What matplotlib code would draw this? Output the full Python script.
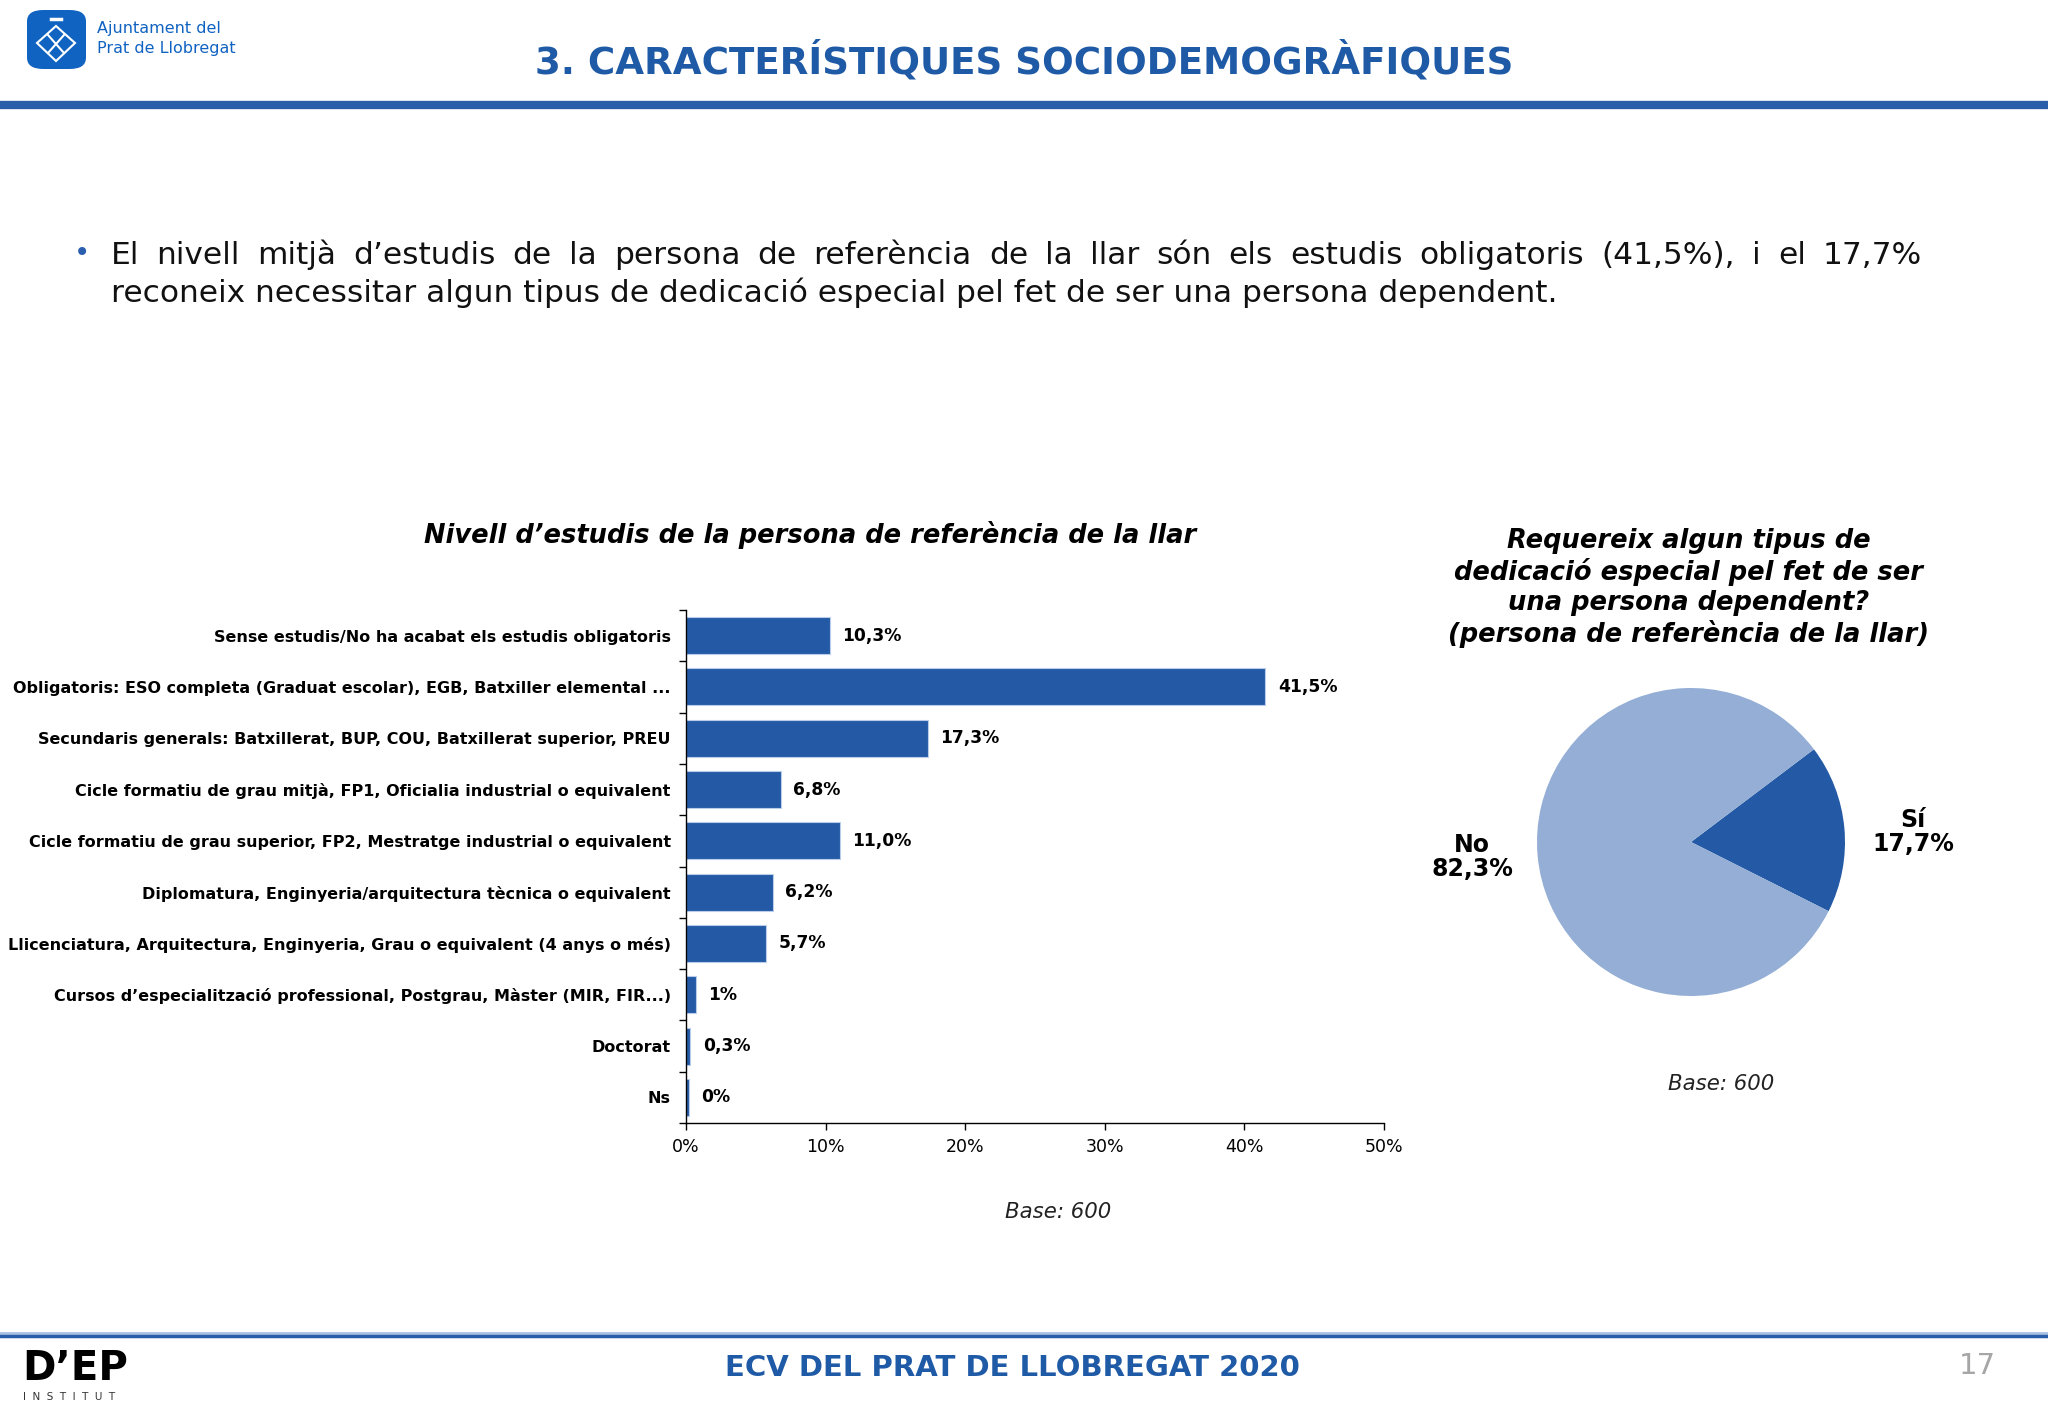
import numpy as np
import matplotlib
matplotlib.use("Agg")
import matplotlib.pyplot as plt
from matplotlib.patches import FancyBboxPatch, Polygon

plt.rcParams['font.family'] = 'DejaVu Sans'

W, H = 2048, 1418
BLUE = '#245aa5'
LIGHT = '#94aed5'
HEAD = '#1f5aa6'

categories = [
    "Sense estudis/No ha acabat els estudis obligatoris",
    "Obligatoris: ESO completa (Graduat escolar), EGB, Batxiller elemental ...",
    "Secundaris generals: Batxillerat, BUP, COU, Batxillerat superior, PREU",
    "Cicle formatiu de grau mitjà, FP1, Oficialia industrial o equivalent",
    "Cicle formatiu de grau superior, FP2, Mestratge industrial o equivalent",
    "Diplomatura, Enginyeria/arquitectura tècnica o equivalent",
    "Llicenciatura, Arquitectura, Enginyeria, Grau o equivalent (4 anys o més)",
    "Cursos d\u2019especialització professional, Postgrau, Màster (MIR, FIR...)",
    "Doctorat",
    "Ns",
]
values = [10.3, 41.5, 17.3, 6.8, 11.0, 6.2, 5.7, 0.7, 0.3, 0.2]
value_labels = ["10,3%", "41,5%", "17,3%", "6,8%", "11,0%", "6,2%", "5,7%", "1%", "0,3%", "0%"]
x_ticks = [0, 10, 20, 30, 40, 50]
x_tick_labels = ["0%", "10%", "20%", "30%", "40%", "50%"]

pie_labels = ["Sí\n17,7%", "No\n82,3%"]
pie_values = [17.7, 82.3]
pie_colors = [BLUE, LIGHT]


def fx(x):
    return x / W


def fy(y):
    return 1 - y / H


fig = plt.figure(figsize=(W / 100, H / 100), dpi=100)

# ---- header ----
fig.add_artist(FancyBboxPatch((fx(27), fy(69)), fx(59), 59 / H,
                              boxstyle="round,pad=0,rounding_size=0.008",
                              transform=fig.transFigure, fc='#1163c2', ec='none'))
fig.add_artist(Polygon([(fx(56), fy(26)), (fx(75), fy(43)), (fx(56), fy(61)), (fx(37), fy(43))],
                       closed=True, fill=False, ec='white', lw=1.5, transform=fig.transFigure))
fig.add_artist(plt.Line2D([fx(48), fx(64)], [fy(35), fy(53)], color='white', lw=1.5,
                          transform=fig.transFigure))
fig.add_artist(plt.Line2D([fx(64), fx(48)], [fy(35), fy(53)], color='white', lw=1.5,
                          transform=fig.transFigure))
fig.add_artist(plt.Line2D([fx(51), fx(61)], [fy(19), fy(19)], color='white', lw=2.5,
                          transform=fig.transFigure))
fig.text(fx(97), fy(29), "Ajuntament del", color='#1163c2', fontsize=11.5,
         va='center', ha='left')
fig.text(fx(97), fy(49), "Prat de Llobregat", color='#1163c2', fontsize=11.5,
         va='center', ha='left')
fig.text(fx(1024), fy(61), "3. CARACTERÍSTIQUES SOCIODEMOGRÀFIQUES", color=HEAD,
         fontsize=26.8, fontweight='bold', ha='center', va='center')
fig.add_artist(plt.Line2D([0, 1], [fy(105), fy(105)], color='#2b5ea8', lw=6,
                          transform=fig.transFigure))

# ---- bullet text (first line justified) ----
fig.text(fx(82), fy(253), "\u2022", color='#2a5fb0', fontsize=20, ha='center', va='center')
line1 = "El nivell mitjà d\u2019estudis de la persona de referència de la llar són els estudis obligatoris (41,5%), i el 17,7%".split()
line2 = "reconeix necessitar algun tipus de dedicació especial pel fet de ser una persona dependent."
renderer = fig.canvas.get_renderer()
words = [fig.text(0, fy(255), w, fontsize=22.5, ha='left', va='center', color='#111111')
         for w in line1]
widths = [t.get_window_extent(renderer).width for t in words]
x0, x1 = 111, 1922
gap = (x1 - x0 - sum(widths)) / (len(words) - 1)
xpos = x0
for t, wdt in zip(words, widths):
    t.set_x(fx(xpos))
    xpos += wdt + gap
fig.text(fx(111), fy(293), line2, fontsize=22.5, ha='left', va='center', color='#111111')

# ---- bar chart ----
ax = fig.add_axes([fx(686), fy(1123), fx(1384) - fx(686), (1123 - 610) / H])
ypos = np.arange(len(categories))
ax.barh(ypos, values, height=0.72, color=BLUE, edgecolor='#b9cdea', linewidth=0.8)
for yy, v, lab in zip(ypos, values, value_labels):
    ax.text(v + 0.9, yy, lab, va='center', ha='left', fontsize=12.3, fontweight='bold')
ax.set_xlim(0, 50)
ax.set_ylim(9.5, -0.5)
ax.set_xticks(x_ticks)
ax.set_xticklabels(x_tick_labels, fontsize=12.5)
ax.set_yticks(ypos)
ax.set_yticklabels(categories, fontsize=11.5, fontweight='bold')
ax.set_yticks(np.arange(-0.5, 10, 1), minor=True)
ax.tick_params(axis='y', which='major', length=0, pad=11)
ax.tick_params(axis='y', which='minor', length=5, width=1)
ax.tick_params(axis='x', which='major', length=5, width=1, pad=6)
for s in ['top', 'right']:
    ax.spines[s].set_visible(False)
ax.spines['left'].set_linewidth(1)
ax.spines['bottom'].set_linewidth(1)
fig.text(fx(810), fy(535), "Nivell d\u2019estudis de la persona de referència de la llar",
         fontsize=18.5, fontweight='bold', fontstyle='italic', ha='center', va='center')
fig.text(fx(1058), fy(1212), "Base: 600", fontsize=15.3, fontstyle='italic', ha='center',
         va='center', color='#222222')

# ---- pie chart ----
r = 154
pax = fig.add_axes([fx(1691 - r), fy(842 + r), 2 * r / W, 2 * r / H])
pax.pie(pie_values, colors=pie_colors, startangle=-26.7, counterclock=True,
        wedgeprops=dict(linewidth=0))
pax.set_xlim(-1, 1)
pax.set_ylim(-1, 1)
pax.set_aspect('equal')
fig.text(fx(1913), fy(832), pie_labels[0], fontsize=17, fontweight='bold', ha='center',
         va='center', linespacing=1.05)
fig.text(fx(1472), fy(857), pie_labels[1], fontsize=17, fontweight='bold', ha='center',
         va='center', linespacing=1.05)
fig.text(fx(1689), fy(588), "Requereix algun tipus de\ndedicació especial pel fet de ser\n"
         "una persona dependent?\n(persona de referència de la llar)",
         fontsize=18.5, fontweight='bold', fontstyle='italic', ha='center', va='center',
         linespacing=1.2)
fig.text(fx(1721), fy(1084), "Base: 600", fontsize=15.3, fontstyle='italic', ha='center',
         va='center', color='#222222')

# ---- footer ----
fig.add_artist(plt.Line2D([0, 1], [fy(1333), fy(1333)], color='#a9c1e3', lw=2,
                          transform=fig.transFigure))
fig.add_artist(plt.Line2D([0, 1], [fy(1336), fy(1336)], color='#2b5ea8', lw=2.5,
                          transform=fig.transFigure))
fig.text(fx(1012), fy(1368), "ECV DEL PRAT DE LLOBREGAT 2020", color=HEAD, fontsize=21,
         fontweight='bold', ha='center', va='center')
fig.text(fx(1977), fy(1366), "17", color='#a6a6a6', fontsize=21, ha='center', va='center')
fig.text(fx(22), fy(1369), "D\u2019EP", color='black', fontsize=29, fontweight='heavy',
         ha='left', va='center')
fig.text(fx(23), fy(1397), "I  N  S  T  I  T  U  T", color='#333333', fontsize=7.5,
         ha='left', va='center')

fig.savefig("out.png", dpi=100)
